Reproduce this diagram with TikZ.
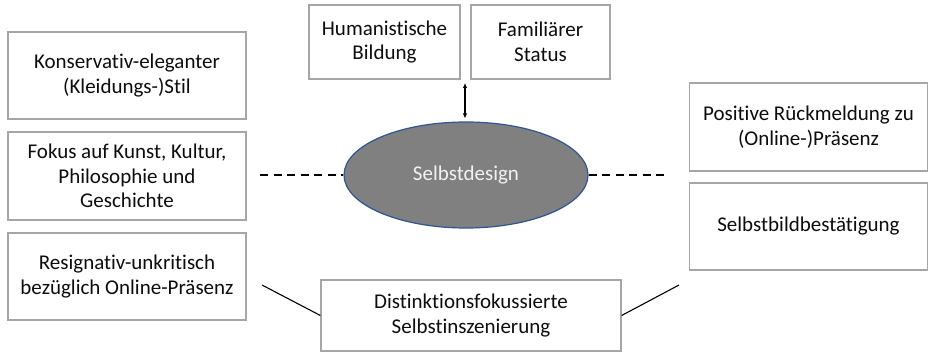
\documentclass[tikz,border=0pt]{standalone}
\usepackage{fontspec}
\setmainfont[Ligatures=NoCommon]{Carlito}
\usetikzlibrary{arrows.meta,shapes.geometric}
\definecolor{boxgray}{HTML}{A6A6A6}
\definecolor{txt}{HTML}{0D0D0D}
\definecolor{ellfill}{HTML}{808080}
\definecolor{elldraw}{HTML}{2F5597}
\definecolor{elltxt}{HTML}{F2F2F2}
\begin{document}
\begin{tikzpicture}[x=1pt,y=-1pt,
  box/.style={draw=boxgray,line width=1.3pt,align=center,text=txt,
    font=\fontsize{21}{24.5}\selectfont,inner sep=0pt},
  ellnode/.style={ellipse,draw=elldraw,fill=ellfill,line width=1.2pt,
    text=elltxt,font=\fontsize{21}{24.5}\selectfont,inner sep=0pt},
  dashline/.style={line width=1.1pt,dash pattern=on 8pt off 5.5pt},
  solidline/.style={line width=1.1pt},
  arr/.style={line width=1.1pt,{Latex[length=5pt,width=4.5pt]}-{Latex[length=5pt,width=4.5pt]}}
]
\useasboundingbox (0,0) rectangle (929,352);
\fill[white] (0,0) rectangle (929,352);

\node[box,minimum width=238pt,minimum height=87pt] (kons) at (127,75.5)
  {Konservativ-eleganter\\(Kleidungs-)Stil};
\node[box,minimum width=238pt,minimum height=88pt] (fokus) at (127,176)
  {Fokus auf Kunst, Kultur,\\Philosophie und\\Geschichte};
\node[box,minimum width=238pt,minimum height=87pt] (resig) at (127,276.5)
  {Resignativ-unkritisch\\bezüglich Online-Präsenz};
\node[box,minimum width=151pt,minimum height=74pt] (human) at (384.5,42)
  {Humanistische\\Bildung};
\node[box,minimum width=139pt,minimum height=74pt] (famil) at (540.5,42)
  {Familiärer\\Status};
\node[box,minimum width=238pt,minimum height=88pt] (posit) at (808.5,127)
  {Positive Rückmeldung zu\\(Online-)Präsenz};
\node[box,minimum width=238pt,minimum height=87pt] (selbst) at (808.5,226.5)
  {Selbstbildbestätigung};
\node[box,minimum width=300pt,minimum height=71pt] (dist) at (471,315.5)
  {Distinktionsfokussierte\\Selbstinszenierung};

\node[ellnode,minimum width=244pt,minimum height=106pt] (sd) at (466,175)
  {Selbstdesign};

\coordinate (arrtop) at (465,83);
\coordinate (arrbot) at (465,118.5);
\draw[arr] (arrtop) -- (arrbot);

\coordinate (dl) at (260,175);
\coordinate (dr) at (668,175);
\draw[dashline] (dl) -- (sd.west);
\draw[dashline] (sd.east) -- (dr);

\coordinate (sl) at (262,285);
\coordinate (sr) at (679,285);
\draw[solidline] (sl) -- (dist.west);
\draw[solidline] (dist.east) -- (sr);
\end{tikzpicture}
\end{document}
